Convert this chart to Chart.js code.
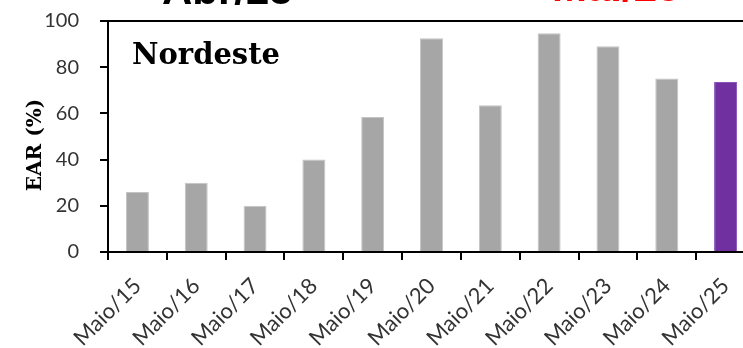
<!DOCTYPE html>
<html>
<head>
<meta charset="utf-8">
<script src="https://cdn.jsdelivr.net/npm/chart.js@4"></script>
<style>
  html, body { margin: 0; padding: 0; overflow: hidden; background: #fff; }
  #caixa { width: 760px; height: 348px; }
</style>
</head>
<body>
<div id="caixa"><canvas id="grafico" width="760" height="348"></canvas></div>
<script>
// dados (EAR % no fim de maio)
const meses = ['Maio/15', 'Maio/16', 'Maio/17', 'Maio/18', 'Maio/19', 'Maio/20',
               'Maio/21', 'Maio/22', 'Maio/23', 'Maio/24', 'Maio/25'];
const ear = [26, 30, 20, 40, 58.4, 92.5, 63.5, 94.7, 89.1, 75.1, 73.6];
const yTicks = [0, 20, 40, 60, 80, 100];
const regiao = 'Nordeste';
const tituloEixo = 'EAR (%)';
const textoTopoPreto = 'Abr/25';
const textoTopoVermelho = 'Mai/25';

const cinza = '#a6a6a6';
const roxo = '#7030a0';

// ultimo mes em roxo, resto cinza
const cores = meses.map((m, i) => i == meses.length - 1 ? roxo : cinza);
const bordas = meses.map((m, i) => i == meses.length - 1 ? '#8a55b8' : '#c4c4c4');

// desenha textos extras e a linha de cima
const extras = {
    id: 'extras',
    afterDraw(chart) {
        const ctx = chart.ctx;
        const area = chart.chartArea;
        ctx.save();

        // linha de cima do grafico
        ctx.strokeStyle = '#000';
        ctx.lineWidth = 2;
        ctx.beginPath();
        ctx.moveTo(area.left, area.top);
        ctx.lineTo(area.right, area.top);
        ctx.stroke();

        // nome da regiao
        ctx.fillStyle = '#000';
        ctx.font = 'bold 29px "DejaVu Serif"';
        ctx.textAlign = 'left';
        ctx.textBaseline = 'alphabetic';
        ctx.fillText(regiao, 132, 64);

        // titulo do eixo y
        ctx.save();
        ctx.translate(36, 145);
        ctx.rotate(-Math.PI / 2);
        ctx.font = 'bold 20px "DejaVu Serif"';
        ctx.textAlign = 'center';
        ctx.textBaseline = 'middle';
        ctx.fillText(tituloEixo, 0, 0);
        ctx.restore();

        // textos cortados no topo
        ctx.font = 'bold 42px "Liberation Sans"';
        ctx.textAlign = 'left';
        ctx.fillStyle = '#000';
        ctx.fillText(textoTopoPreto, 162, 4);
        ctx.fillStyle = '#ff0000';
        ctx.fillText(textoTopoVermelho, 552, 1);

        ctx.restore();
    }
};

new Chart(document.getElementById('grafico'), {
    type: 'bar',
    data: {
        labels: meses,
        datasets: [{
            label: tituloEixo,
            data: ear,
            backgroundColor: cores,
            borderColor: bordas,
            borderWidth: 1,
            categoryPercentage: 1,
            barPercentage: 0.39
        }]
    },
    options: {
        responsive: false,
        animation: false,
        devicePixelRatio: 1,
        layout: { padding: { top: 21, right: 5, left: 0, bottom: 0 } },
        plugins: {
            legend: { display: false },
            tooltip: { enabled: false }
        },
        scales: {
            x: {
                offset: true,
                grid: {
                    display: true,
                    offset: true,
                    drawOnChartArea: false,
                    drawTicks: true,
                    tickLength: 8,
                    color: '#000',
                    lineWidth: 2
                },
                border: { display: true, color: '#000', width: 2 },
                ticks: {
                    minRotation: 45,
                    maxRotation: 45,
                    padding: 13,
                    color: '#333',
                    font: { family: 'Lato', size: 22 }
                },
                afterFit: (s) => { s.height = 96; }
            },
            y: {
                min: 0,
                max: 100,
                afterBuildTicks: (s) => { s.ticks = yTicks.map(v => ({ value: v })); },
                grid: {
                    display: true,
                    drawOnChartArea: false,
                    drawTicks: true,
                    tickLength: 8,
                    color: '#000',
                    lineWidth: 2
                },
                border: { display: true, color: '#000', width: 2 },
                ticks: {
                    padding: 21,
                    color: '#333',
                    font: { family: 'Lato', size: 20 }
                },
                afterFit: (s) => {
                    s.width = 108;
                    // sem folga extra em cima, o topo fica no padding do layout
                    s.paddingTop = 0;
                    s.paddingBottom = 0;
                }
            }
        }
    },
    plugins: [extras]
});
</script>
</body>
</html>
